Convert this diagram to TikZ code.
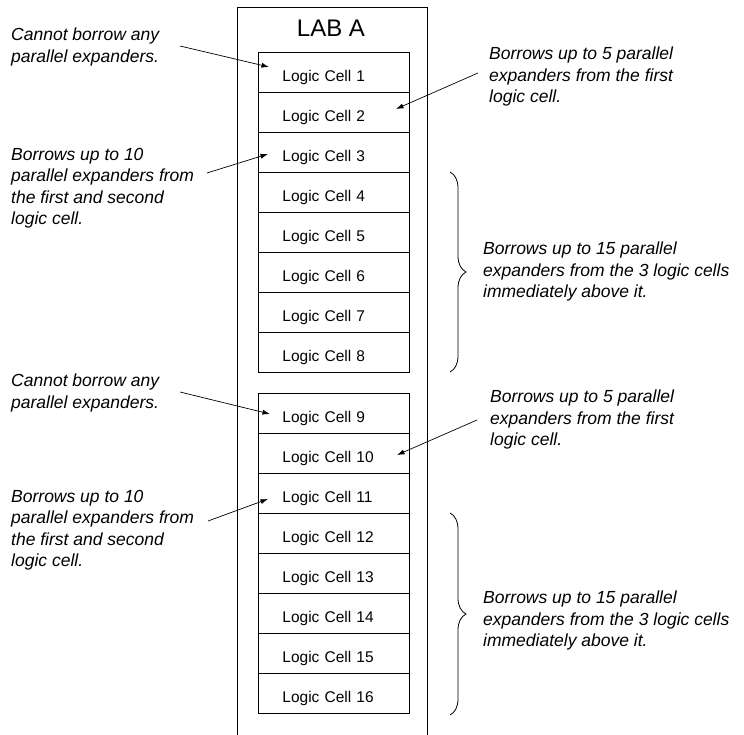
\documentclass[tikz,border=0pt]{standalone}
\usepackage{fontspec}
\setmainfont{Liberation Sans}
\usetikzlibrary{arrows.meta,decorations.pathreplacing}
\begin{document}
\begin{tikzpicture}[x=1pt,y=-1pt,
  cell/.style={draw, line width=0.8pt, minimum width=151pt, minimum height=40pt,
    inner xsep=24pt, inner ysep=0pt, text width=103pt, align=left,
    text height=19pt, text depth=0pt, font=\fontsize{15.5}{18}\selectfont, anchor=north west},
  note/.style={inner sep=0pt, align=left, anchor=north west,
    font=\fontsize{17.5}{21.5}\selectfont\itshape},
  arr/.style={line width=0.7pt, -{Latex[length=7.5pt,width=5pt]}},
  brc/.style={line width=0.8pt, decorate, decoration={brace, amplitude=16pt}},
  frame/.style={line width=0.8pt}]
\useasboundingbox (0,0) rectangle (744,735);

% outer LAB frame (open at the bottom)
\draw[frame] (237,737) -- (237,7) -- (427,7) -- (427,737);
\node[font=\fontsize{24}{28}\selectfont, inner sep=0pt] (lab) at (331,28.5) {LAB A};

% logic cells
\foreach \i in {1,...,8}
  \node[cell] (c\i) at (258,{52+40*(\i-1)}) {Logic Cell \i};
\foreach \i in {9,...,16}
  \node[cell] (c\i) at (258,{393+40*(\i-9)}) {Logic Cell \i};

% notes
\node[note] (n1) at (11,28) {Cannot borrow any\\parallel expanders.};
\node[note] (n2) at (489,47) {Borrows up to 5 parallel\\expanders from the first\\logic cell.};
\node[note] (n3) at (11,148) {Borrows up to 10\\parallel expanders from\\the first and second\\logic cell.};
\node[note] (n4) at (483,242) {Borrows up to 15 parallel\\expanders from the 3 logic cells\\immediately above it.};
\node[note] (n9) at (11,374) {Cannot borrow any\\parallel expanders.};
\node[note] (n10) at (490,390) {Borrows up to 5 parallel\\expanders from the first\\logic cell.};
\node[note] (n11) at (11,490) {Borrows up to 10\\parallel expanders from\\the first and second\\logic cell.};
\node[note] (n12) at (483,591) {Borrows up to 15 parallel\\expanders from the 3 logic cells\\immediately above it.};

% arrow end points
\coordinate (t1) at (180,46);  \coordinate (h1) at (269,67);
\coordinate (t2) at (478,73);  \coordinate (h2) at (396,109);
\coordinate (t3) at (207,173); \coordinate (h3) at (268,154);
\coordinate (t9) at (180,392); \coordinate (h9) at (270,414);
\coordinate (t10) at (477,420); \coordinate (h10) at (397,455);
\coordinate (t11) at (208,521); \coordinate (h11) at (268,499);

\draw[arr] (t1) -- (h1);
\draw[arr] (t2) -- (h2);
\draw[arr] (t3) -- (h3);
\draw[arr] (t9) -- (h9);
\draw[arr] (t10) -- (h10);
\draw[arr] (t11) -- (h11);

% braces
\coordinate (b1s) at (450,172); \coordinate (b1e) at (450,372);
\coordinate (b2s) at (450,513); \coordinate (b2e) at (450,715);
\draw[brc] (b1s) -- (b1e);
\draw[brc] (b2s) -- (b2e);
\end{tikzpicture}
\end{document}
